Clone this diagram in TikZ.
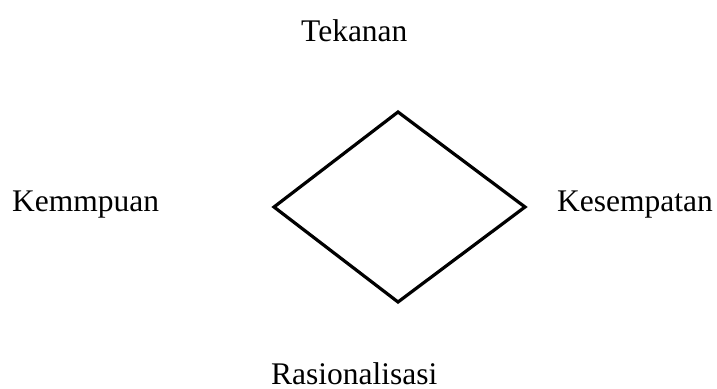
\documentclass[tikz,border=0pt]{standalone}
\usepackage{fontspec}
\setmainfont{Liberation Serif}
\begin{document}
\begin{tikzpicture}[x=1pt,y=1pt,
  lbl/.style={anchor=base west,inner sep=0pt,font=\fontsize{31.5}{38}\selectfont}]
\useasboundingbox (0,0) rectangle (717,388);
\coordinate (top) at (398,276);
\coordinate (left) at (274,181);
\coordinate (right) at (525,181);
\coordinate (bottom) at (398,86);
\draw[line width=3.2pt,line join=miter] (top) -- (right) -- (bottom) -- (left) -- cycle;
\node[lbl] (tekanan) at (301,346) {Tekanan};
\node[lbl] (kemampuan) at (12,176) {Kemmpuan};
\node[lbl] (kesempatan) at (557,176) {Kesempatan};
\node[lbl] (rasionalisasi) at (271,4) {Rasionalisasi};
\end{tikzpicture}
\end{document}
